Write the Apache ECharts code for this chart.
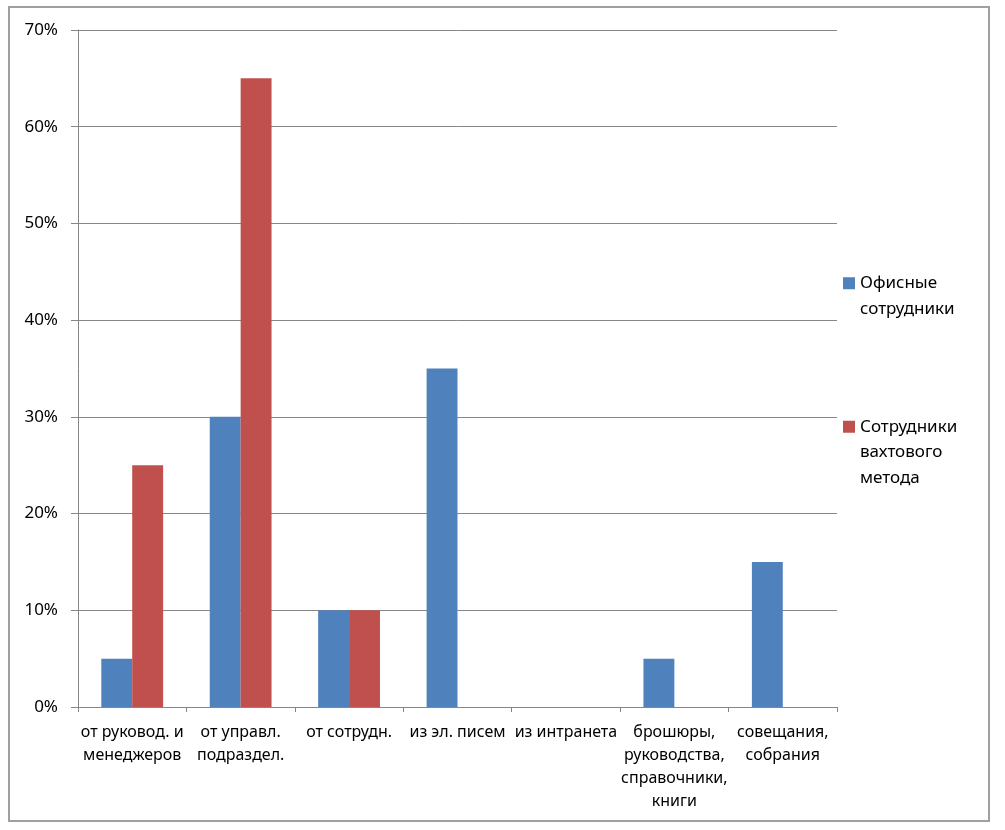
<!DOCTYPE html>
<html><head><meta charset="utf-8">
<script src="https://cdn.jsdelivr.net/npm/echarts@6/dist/echarts.min.js"></script>
<style>html,body{margin:0;padding:0;background:#fff}#c{width:1005px;height:830px}</style>
</head><body><div id="c"></div>
<script>
const categories = ["от руковод. и\nменеджеров","от управл.\nподраздел.","от сотрудн.","из эл. писем","из интранета","брошюры,\nруководства,\nсправочники,\nкниги","совещания,\nсобрания"];
const seriesNames = ["Офисные\nсотрудники","Сотрудники\nвахтового\nметода"];
const officeValues = [5,30,10,35,0,5,15];
const shiftValues = [25,65,10,0,0,0,0];
const yTicks = {min:0,max:70,interval:10};
const FONT = "Noto Sans";
// prepend (lines-1) blank lines so the icon sits beside the first line
const topAlign = n => { const k = n.split('\n').length; return '\n'.repeat(k-1) + n; };
const legendText = {fontFamily:FONT,fontSize:17,color:'#000',lineHeight:25.5};
const chart = echarts.init(document.getElementById('c'));
chart.setOption({
  animation:false,
  color:['#4F81BD','#C0504D'],
  graphic:[{type:'rect',shape:{x:9,y:7,width:980,height:814},style:{fill:'none',stroke:'#a0a0a0',lineWidth:2},silent:true}],
  legend:[
    {data:[seriesNames[0]],orient:'vertical',left:843,top:245,itemWidth:12,itemHeight:12,itemGap:0,icon:'rect',padding:0,
     formatter:topAlign,textStyle:legendText},
    {data:[seriesNames[1]],orient:'vertical',left:843,top:363,itemWidth:12,itemHeight:12,itemGap:0,icon:'rect',padding:0,
     formatter:topAlign,textStyle:legendText}
  ],
  grid:{left:78,right:168,top:30,bottom:123,containLabel:false},
  xAxis:{type:'category',data:categories,
    axisLine:{lineStyle:{color:'#868686',width:1}},
    axisTick:{show:true,length:5,alignWithLabel:false,lineStyle:{color:'#868686'}},
    axisLabel:{fontFamily:FONT,fontSize:16,color:'#000',lineHeight:23,margin:14,interval:0}},
  yAxis:{type:'value',min:yTicks.min,max:yTicks.max,interval:yTicks.interval,
    axisLine:{show:true,lineStyle:{color:'#868686',width:1}},
    axisTick:{show:true,length:7,lineStyle:{color:'#868686'}},
    splitLine:{lineStyle:{color:'#868686',width:1}},
    axisLabel:{formatter:'{value}%',fontFamily:FONT,fontSize:17,color:'#000',margin:20}},
  series:[
    {name:seriesNames[0],type:'bar',data:officeValues,barGap:'0%',barCategoryGap:'43%'},
    {name:seriesNames[1],type:'bar',data:shiftValues,barGap:'0%',barCategoryGap:'43%'}
  ]
});
</script></body></html>
